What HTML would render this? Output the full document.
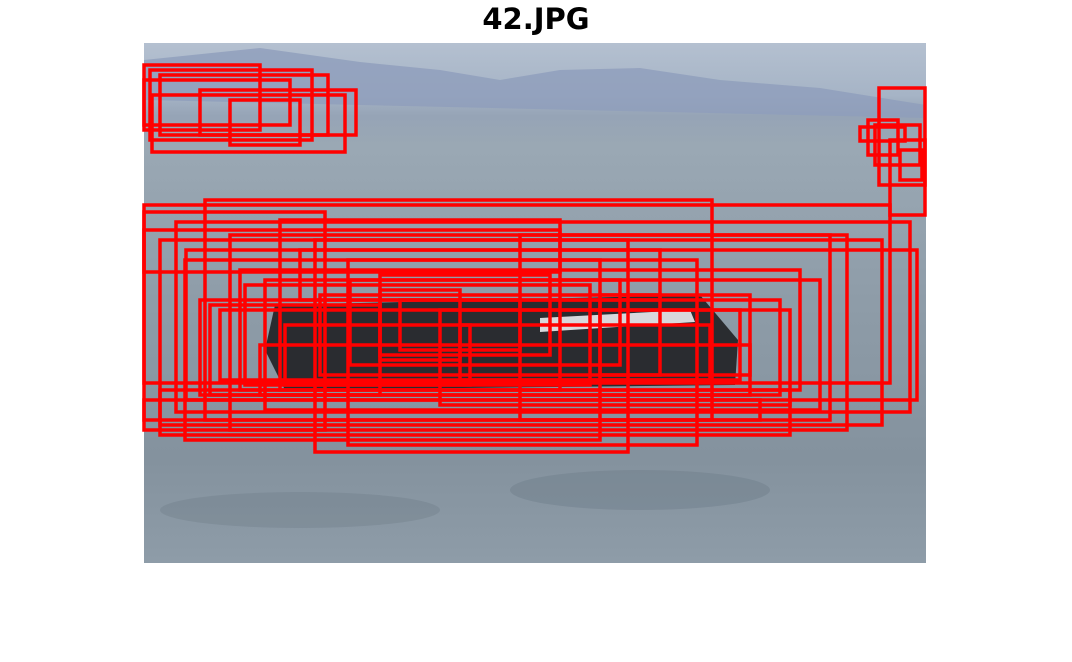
<!DOCTYPE html>
<html><head><meta charset="utf-8"><style>
html,body{margin:0;padding:0;background:#fff;}
body{width:1072px;height:662px;position:relative;overflow:hidden;font-family:"DejaVu Sans","Liberation Sans",sans-serif;}
#title{position:absolute;left:0;width:1072px;top:2px;text-align:center;font-weight:bold;font-size:29px;color:#000;}
svg{position:absolute;left:0;top:0;}
</style></head><body>
<div id="title">42.JPG</div>
<svg width="1072" height="662">
<defs>
<linearGradient id="sea" x1="0" y1="0" x2="0" y2="1">
<stop offset="0" stop-color="#b4c0d0"/>
<stop offset="0.1" stop-color="#a6b4c6"/>
<stop offset="0.14" stop-color="#96a4b6"/>
<stop offset="0.2" stop-color="#9aa8b4"/>
<stop offset="0.5" stop-color="#8e9ca8"/>
<stop offset="0.8" stop-color="#84929e"/>
<stop offset="1" stop-color="#8e9ca8"/>
</linearGradient>
</defs>
<g>
<rect x="144" y="43" width="782" height="520" fill="url(#sea)"/>
<path d="M144,60 L260,48 L360,62 L440,70 L500,80 L560,70 L640,68 L720,80 L820,88 L926,105 L926,118 L144,100 Z" fill="#8e9ebc" opacity="0.8"/>
<path d="M275,305 L700,295 L738,340 L735,385 L285,390 L265,350 Z" fill="#2a2c30"/>
<path d="M540,318 L690,310 L695,322 L540,332 Z" fill="#d8d8dc"/>
<ellipse cx="640" cy="490" rx="130" ry="20" fill="#6c7a86" opacity="0.4"/>
<ellipse cx="300" cy="510" rx="140" ry="18" fill="#6c7a86" opacity="0.35"/>
</g>
<g id="boxes" fill="none" stroke="#ff0000" stroke-width="3.5"></g>
</svg>
<script>
// box data in image pixel coordinates: x0, y0, x1, y1 (image origin at 144,43)
const boxX0=[0,6,16,8,56,86,0,735,716,724,731,746,756,0,61,0,32,16,42,0,86,171,204,56,121,41,256,236,96,0,16,76,156,376,136,101,176,236,296,141,66,316,206,456,116];
const boxY0=[22,27,32,52,47,57,37,45,84,77,82,97,107,162,157,169,179,197,207,187,192,197,217,257,237,217,257,247,227,357,347,267,207,192,177,242,252,232,267,282,262,282,237,252,302];
const boxX1=[116,168,184,201,212,156,146,781,761,754,776,781,778,746,568,181,766,738,773,416,703,484,553,636,676,456,376,316,656,616,646,596,516,686,416,446,516,406,646,326,236,566,476,606,606];
const boxY1=[87,97,92,109,92,102,82,142,98,112,122,172,137,340,377,387,369,382,357,229,387,409,402,352,367,397,307,317,347,377,392,337,257,377,347,342,332,312,362,342,352,337,322,332,352];
const img={left:144,top:43};
const g=document.getElementById('boxes');
for(let i=0;i<boxX0.length;i++){
  const r=document.createElementNS('http://www.w3.org/2000/svg','rect');
  r.setAttribute('x',img.left+boxX0[i]);
  r.setAttribute('y',img.top+boxY0[i]);
  r.setAttribute('width',boxX1[i]-boxX0[i]);
  r.setAttribute('height',boxY1[i]-boxY0[i]);
  
  
  g.appendChild(r);
}
</script>
</body></html>
